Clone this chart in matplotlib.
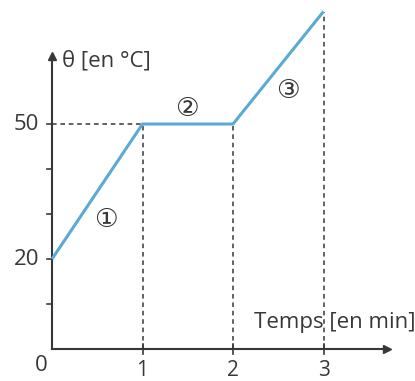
import matplotlib.pyplot as plt

# ── Data ──────────────────────────────────────────────────────────────────────
temps = [0, 1, 2, 3]            # min
theta = [20, 50, 50, 75]        # °C
x_ticks = [1, 2, 3]
y_ticks_labeled = [20, 50]
y_ticks_minor = [10, 30, 40]
phase_labels = ["①", "②", "③"]
phase_pos = [(0.59, 28.6), (1.49, 53.2), (2.61, 57.3)]

LINE_COLOR = "#5aaad2"
INK = "#383838"
FONT = ["Open Sans", "DejaVu Sans"]
plt.rcParams["font.family"] = FONT

fig = plt.figure(figsize=(4.15, 3.81), dpi=100)
ax = fig.add_axes([0, 0, 1, 1])
ax.set_xlim(-0.575, 4.011)
ax.set_ylim(-7.11, 77.56)
ax.axis("off")

# guide lines
dash = dict(color=INK, linewidth=1.1, linestyle=(0, (3, 2.5)))
ax.plot([0, temps[1]], [theta[1], theta[1]], **dash)
for t, v in zip(temps[1:], theta[1:]):
    ax.plot([t, t], [0, v], **dash)

# axes with arrows
ax.plot([0, 0], [0, 64.5], color=INK, linewidth=1.5)
ax.plot([0, 3.68], [0, 0], color=INK, linewidth=1.5)
ax.plot(0, 65.2, marker="^", color=INK, markersize=6, clip_on=False)
ax.plot(3.70, 0, marker=">", color=INK, markersize=6, clip_on=False)

# ticks
for t in x_ticks:
    ax.plot([t, t], [-1.1, 1.1], color=INK, linewidth=1.2)
    ax.text(t, -2.4, str(t), ha="center", va="top", fontsize=15, color=INK)
for v in y_ticks_labeled + y_ticks_minor:
    ax.plot([-0.055, 0], [v, v], color=INK, linewidth=1.2)
for v in y_ticks_labeled:
    ax.text(-0.14, v, str(v), ha="right", va="center", fontsize=16, color=INK)
ax.text(-0.05, -1.3, "0", ha="right", va="top", fontsize=16, color=INK)

# axis titles
ax.text(0.11, 64.0, "θ [en °C]", ha="left", va="center", fontsize=16, color=INK)
ax.text(2.23, 5.9, "Temps [en min]", ha="left", va="center", fontsize=16,
        color=INK)

# curve
ax.plot(temps, theta, color=LINE_COLOR, linewidth=2.2, clip_on=False,
        solid_capstyle="butt")

for lab, (x, y) in zip(phase_labels, phase_pos):
    ax.text(x, y, lab, ha="center", va="center", fontsize=19, color=INK)

fig.savefig("out.png", dpi=100, facecolor="white")
